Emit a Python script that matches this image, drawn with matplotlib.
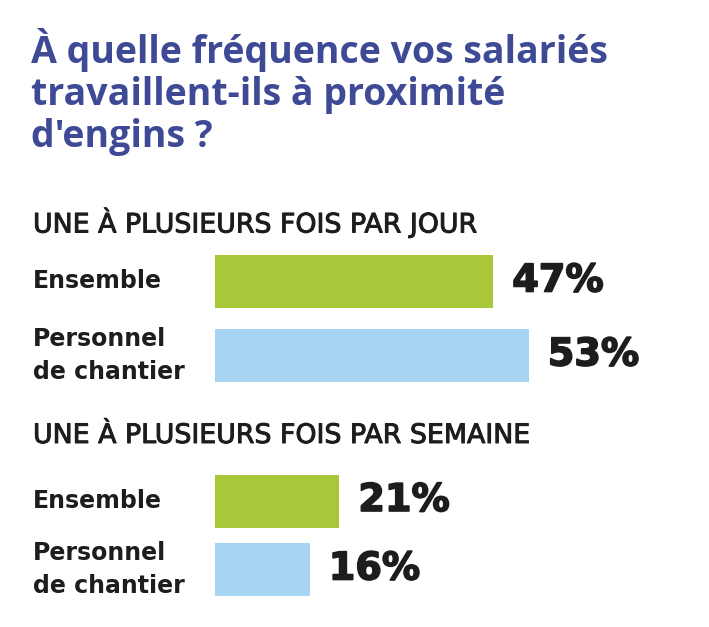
import matplotlib.pyplot as plt
import matplotlib.patheffects as pe

# Data
title = "À quelle fréquence vos salariés\ntravaillent-ils à proximité\nd'engins ?"
sections = ["UNE À PLUSIEURS FOIS PAR JOUR", "UNE À PLUSIEURS FOIS PAR SEMAINE"]
groups = ["Ensemble", "Personnel\nde chantier"]
jour_values = [47, 53]
semaine_values = [21, 16]

green = '#a8c83a'
blue = '#a8d5f2'
title_color = '#3f4a96'
dark = '#1d1d1b'

W, H = 709, 627
fig = plt.figure(figsize=(W / 100, H / 100), dpi=100)
fig.patch.set_facecolor('white')


def ftext(x, y, s, **kw):
    # place text using pixel coords from top-left
    return fig.text(x / W, 1 - y / H, s, **kw)


ftext(31, 28, title, fontsize=27, fontweight='bold', family='Open Sans',
      color=title_color, va='top', linespacing=1.13)

ax = fig.add_axes([215 / W, 0, 592 / W, 1])
ax.set_xlim(0, 100)
ax.set_ylim(H, 0)
ax.axis('off')

section_y = [223, 436]
bar_y = [[281.5, 355.5], [501, 569.5]]
colors = [green, blue]
heavy = [pe.withStroke(linewidth=1.2, foreground=dark)]

for sec, sy, ys, vals in zip(sections, section_y, bar_y, [jour_values, semaine_values]):
    ftext(33, sy, sec, fontsize=19.3, fontweight='normal', family='DejaVu Sans',
          color=dark, va='center',
          path_effects=[pe.withStroke(linewidth=0.7, foreground=dark)])
    ax.barh(ys, vals, height=53, color=colors)
    for g, y, v in zip(groups, ys, vals):
        ftext(33, y, g, fontsize=17, fontweight='bold', family='DejaVu Sans',
              color=dark, va='center', linespacing=1.45)
        ax.annotate(f"{v}%", xy=(v, y), xytext=(13.7, 0), textcoords='offset points',
                    va='center', ha='left', fontsize=27.5, fontweight='bold',
                    family='DejaVu Sans', color=dark, path_effects=heavy)

fig.savefig('out.png', dpi=100)
